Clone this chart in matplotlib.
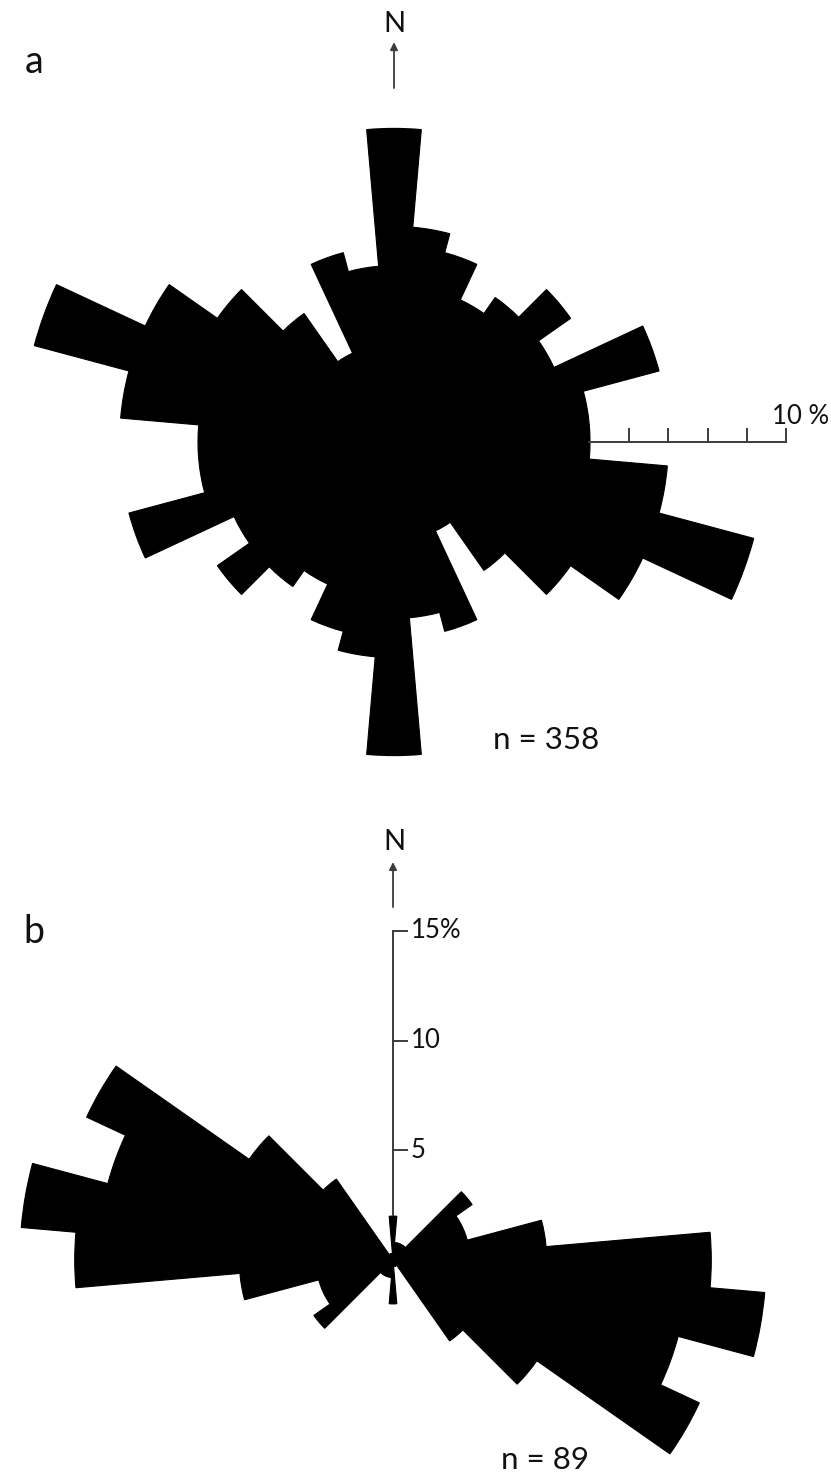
import numpy as np
import matplotlib
matplotlib.use("Agg")
import matplotlib.pyplot as plt

plt.rcParams['font.family'] = ['Lato', 'DejaVu Sans']

# ---------------- data ----------------
# Axial orientation data, 10-degree bins centred on 0,10,...,170 deg
# (drawn bidirectionally, i.e. repeated at +180 deg)
bins_deg = np.arange(0, 180, 10)
pct_a = [8.0, 5.5, 5.0, 4.0, 4.5, 5.5, 4.5, 7.0, 5.0,
         5.0, 7.0, 9.5, 7.0, 5.5, 4.0, 2.5, 5.0, 4.5]
n_a = 358
pct_b = [2.0, 0.8, 0.8, 0.8, 0.8, 4.4, 3.5, 3.5, 7.0,
         14.5, 17.0, 13.45, 15.4, 8.0, 4.5, 0.3, 0.3, 0.3]
n_b = 89
scale_a_ticks = [5, 6, 7, 8, 9, 10]      # % (bar from 5 to 10 %)
scale_b_ticks = [5, 10, 15]              # %
scale_b_labels = ["5", "10", "15%"]

# ---------------- figure ----------------
W, H, DPI = 831, 1481, 100
fig = plt.figure(figsize=(W / DPI, H / DPI), dpi=DPI)
fig.patch.set_facecolor("white")

GREY = "#3c3c3c"
TXT = "#111111"


def add_rose(cx, cy, px_per_pct, rmax, bins, pct):
    half = rmax * px_per_pct
    rect = [(cx - half) / W, (H - cy - half) / H, 2 * half / W, 2 * half / H]
    ax = fig.add_axes(rect, projection="polar")
    ax.set_theta_zero_location("N")
    ax.set_theta_direction(-1)
    theta = np.deg2rad(np.concatenate([bins, bins + 180]))
    r = np.concatenate([pct, pct])
    ax.bar(theta, r, width=np.deg2rad(10), bottom=0, align="center",
           color="black", edgecolor="black", linewidth=0.8)
    # solid core (smallest petal) to hide anti-aliasing seams at the centre
    ax.bar(0, np.min(pct), width=2 * np.pi, bottom=0, color="black",
           edgecolor="none")
    ax.set_ylim(0, rmax)
    ax.set_axis_off()
    ov = fig.add_axes(rect)
    ov.set_xlim(-rmax, rmax)
    ov.set_ylim(-rmax, rmax)
    ov.set_axis_off()
    return ax, ov


def ftext(x, y, s, **kw):
    fig.text(x / W, 1 - y / H, s, **kw)


# ---------------- panel a ----------------
pa = 39.2
ax_a, ov_a = add_rose(394, 442, pa, 10, bins_deg, pct_a)
ov_a.plot([scale_a_ticks[0] - 0.05, scale_a_ticks[-1]], [0, 0],
          color=GREY, lw=1.4, clip_on=False, solid_capstyle="butt")
for t in scale_a_ticks[1:]:
    ov_a.plot([t, t], [0, 0.32], color=GREY, lw=1.4, clip_on=False)
ov_a.text(scale_a_ticks[-1] + 0.36, 0.66, "10 %", ha="center", va="center",
          fontsize=18.5, color=TXT, clip_on=False)
ov_a.annotate("", xy=(0, 10.2), xytext=(0, 9.03),
              arrowprops=dict(arrowstyle="-|>", color=GREY, lw=1.3,
                              mutation_scale=11, shrinkA=0, shrinkB=0),
              annotation_clip=False)
ftext(394, 24, "N", ha="center", va="center", fontsize=21, color=TXT)
ftext(34, 62, "a", ha="center", va="center", fontsize=27, color=TXT)
ftext(546, 740, f"n = {n_a}", ha="center", va="center", fontsize=22.5, color=TXT)

# ---------------- panel b ----------------
pb = 21.95
ax_b, ov_b = add_rose(393, 1260, pb, 17.5, bins_deg, pct_b)
ov_b.plot([0, 0], [pct_b[0], scale_b_ticks[-1]], color=GREY, lw=1.4,
          clip_on=False, solid_capstyle="butt")
for t, lab in zip(scale_b_ticks, scale_b_labels):
    ov_b.plot([0, 0.65], [t, t], color=GREY, lw=1.4, clip_on=False)
    ov_b.text(0.8, t, lab, ha="left", va="center", fontsize=18.5,
              color=TXT, clip_on=False)
ov_b.annotate("", xy=(0, 18.13), xytext=(0, 16.08),
              arrowprops=dict(arrowstyle="-|>", color=GREY, lw=1.3,
                              mutation_scale=11, shrinkA=0, shrinkB=0),
              annotation_clip=False)
ftext(394, 842, "N", ha="center", va="center", fontsize=21, color=TXT)
ftext(34, 932, "b", ha="center", va="center", fontsize=27, color=TXT)
ftext(545, 1460, f"n = {n_b}", ha="center", va="center", fontsize=22.5, color=TXT)

fig.savefig("out.png", dpi=DPI, facecolor="white")
